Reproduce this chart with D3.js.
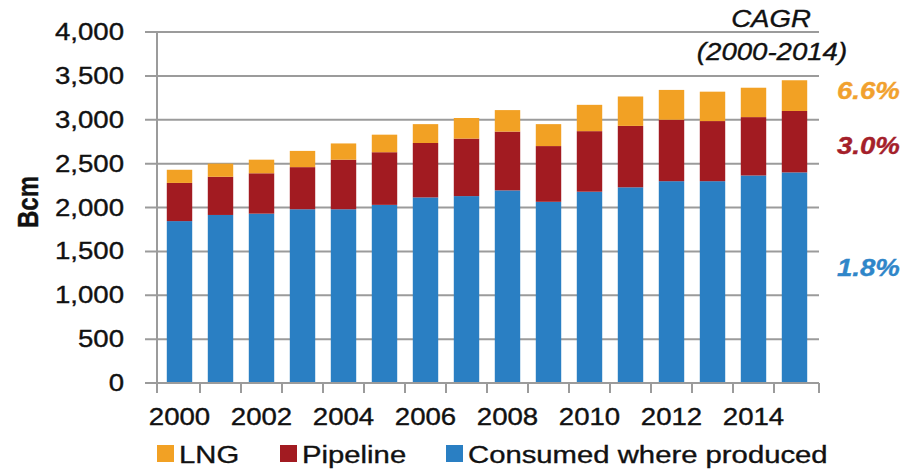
<!DOCTYPE html>
<html>
<head>
<meta charset="utf-8">
<script src="https://cdn.jsdelivr.net/npm/d3@7/dist/d3.min.js"></script>
<style>
  html, body { margin: 0; padding: 0; background: #fff; }
  svg { display: block; font-family: "Liberation Sans", Arial, sans-serif; }
</style>
</head>
<body>
<svg id="chart" width="908" height="469"></svg>
<script>
// Natural gas consumption by supply route, Bcm
const years = ["2000","2001","2002","2003","2004","2005","2006","2007",
               "2008","2009","2010","2011","2012","2013","2014","2015"];
const consumedWhereProduced = [1845, 1915, 1930, 1980, 1980, 2030, 2115, 2130,
                               2195, 2065, 2180, 2230, 2300, 2300, 2365, 2400];
const pipeline = [435, 435, 460, 480, 565, 600, 620, 655,
                  670, 635, 690, 700, 700, 685, 665, 700];
const lng = [150, 150, 155, 185, 185, 200, 215, 235,
             245, 250, 300, 335, 340, 335, 335, 350];
const yTicks = [0, 500, 1000, 1500, 2000, 2500, 3000, 3500, 4000];
const xTickLabels = ["2000","2002","2004","2006","2008","2010","2012","2014"];
const seriesNames = ["Consumed where produced", "Pipeline", "LNG"];
const legendOrder = ["LNG", "Pipeline", "Consumed where produced"];
const cagrLabels = ["1.8%", "3.0%", "6.6%"];

const colors = {
  "Consumed where produced": "#2a7fc3",
  "Pipeline": "#a21b21",
  "LNG": "#f2a124"
};
const labelColors = {
  "Consumed where produced": "#2f86c9",
  "Pipeline": "#a4202a",
  "LNG": "#f1a12e"
};

const STRETCH = 1.2;  // horizontally widened lettering
const svg = d3.select("#chart");

const rows = years.map((y, i) => ({
  year: y,
  "Consumed where produced": consumedWhereProduced[i],
  "Pipeline": pipeline[i],
  "LNG": lng[i]
}));
const stacked = d3.stack().keys(seriesNames)(rows);

const y = d3.scaleLinear().domain([0, 4000]).range([383, 32]);
const xOuter = d3.scaleBand().domain(years).range([159, 815]);
const x = d3.scaleBand().domain(years).range([159, 815])
  .paddingInner(0.38).paddingOuter(0.19);

const axisColor = "#9b9b9b";
const axisLeft = 157, axisRight = 819;

// stretched text helper
function label(parent, px, py, str, opts) {
  const sx = opts.stretch || STRETCH;
  const fill = opts.fill || "#111";
  const g = parent.append("g").attr("transform", `translate(${px},${py})`);
  return g.append("text")
    .attr("transform", (opts.rotate ? `scale(${sx},1) rotate(${opts.rotate})` : `scale(${sx},1)`))
    .attr("text-anchor", opts.anchor || "start")
    .attr("font-size", opts.size || 23)
    .attr("font-weight", opts.weight || "normal")
    .attr("font-style", opts.style || "normal")
    .attr("fill", fill)
    .attr("stroke", fill)
    .attr("stroke-width", 0.35)
    .text(str);
}

// gridlines with left tick marks
svg.append("g").selectAll("line").data(yTicks).join("line")
  .attr("x1", 145).attr("x2", axisRight)
  .attr("y1", d => y(d)).attr("y2", d => y(d))
  .attr("stroke", axisColor).attr("stroke-width", 2);

// y axis line
svg.append("line")
  .attr("x1", axisLeft).attr("x2", axisLeft)
  .attr("y1", y(4000) - 1).attr("y2", y(0) + 10)
  .attr("stroke", axisColor).attr("stroke-width", 2);

// stacked bars
svg.append("g").selectAll("g").data(stacked).join("g")
  .attr("fill", d => colors[d.key])
  .selectAll("rect").data(d => d).join("rect")
  .attr("x", d => x(d.data.year))
  .attr("width", x.bandwidth())
  .attr("y", d => y(d[1]))
  .attr("height", d => y(d[0]) - y(d[1]));

// x axis line and ticks at category boundaries
svg.append("line")
  .attr("x1", axisLeft).attr("x2", axisRight)
  .attr("y1", y(0)).attr("y2", y(0))
  .attr("stroke", axisColor).attr("stroke-width", 2);
const boundaries = years.map(d => xOuter(d)).concat([xOuter.range()[1]]);
boundaries[0] = axisLeft;
boundaries[boundaries.length - 1] = axisRight;
svg.append("g").selectAll("line").data(boundaries).join("line")
  .attr("x1", d => d).attr("x2", d => d)
  .attr("y1", y(0)).attr("y2", y(0) + 10)
  .attr("stroke", axisColor).attr("stroke-width", 2);

// y tick labels
const fmt = d3.format(",");
yTicks.forEach(t => {
  label(svg, 124, y(t) + 8, fmt(t), { anchor: "end", size: 23 });
});

// x tick labels
xTickLabels.forEach(t => {
  label(svg, x(t) + x.bandwidth() / 2, 425, t, { anchor: "middle", size: 23 });
});

// y axis title
label(svg, 38, 202, "Bcm", { anchor: "middle", size: 24, weight: "bold", rotate: -90 });

// CAGR header
label(svg, 771, 27, "CAGR", { anchor: "middle", size: 23, style: "italic" });
label(svg, 772, 60, "(2000-2014)", { anchor: "middle", size: 23, style: "italic" });

// CAGR values
const cagrY = { "LNG": 99, "Pipeline": 154, "Consumed where produced": 276 };
seriesNames.forEach((s, i) => {
  label(svg, 837, cagrY[s], cagrLabels[i],
    { anchor: "start", size: 23, weight: "bold", style: "italic", fill: labelColors[s] });
});

// legend
const legendX = { "LNG": 157, "Pipeline": 280, "Consumed where produced": 446 };
legendOrder.forEach(s => {
  svg.append("rect")
    .attr("x", legendX[s]).attr("y", 445)
    .attr("width", 17).attr("height", 17)
    .attr("fill", colors[s]);
  label(svg, legendX[s] + 22, 463, s, { anchor: "start", size: 24, stretch: 1.22 });
});
</script>
</body>
</html>
